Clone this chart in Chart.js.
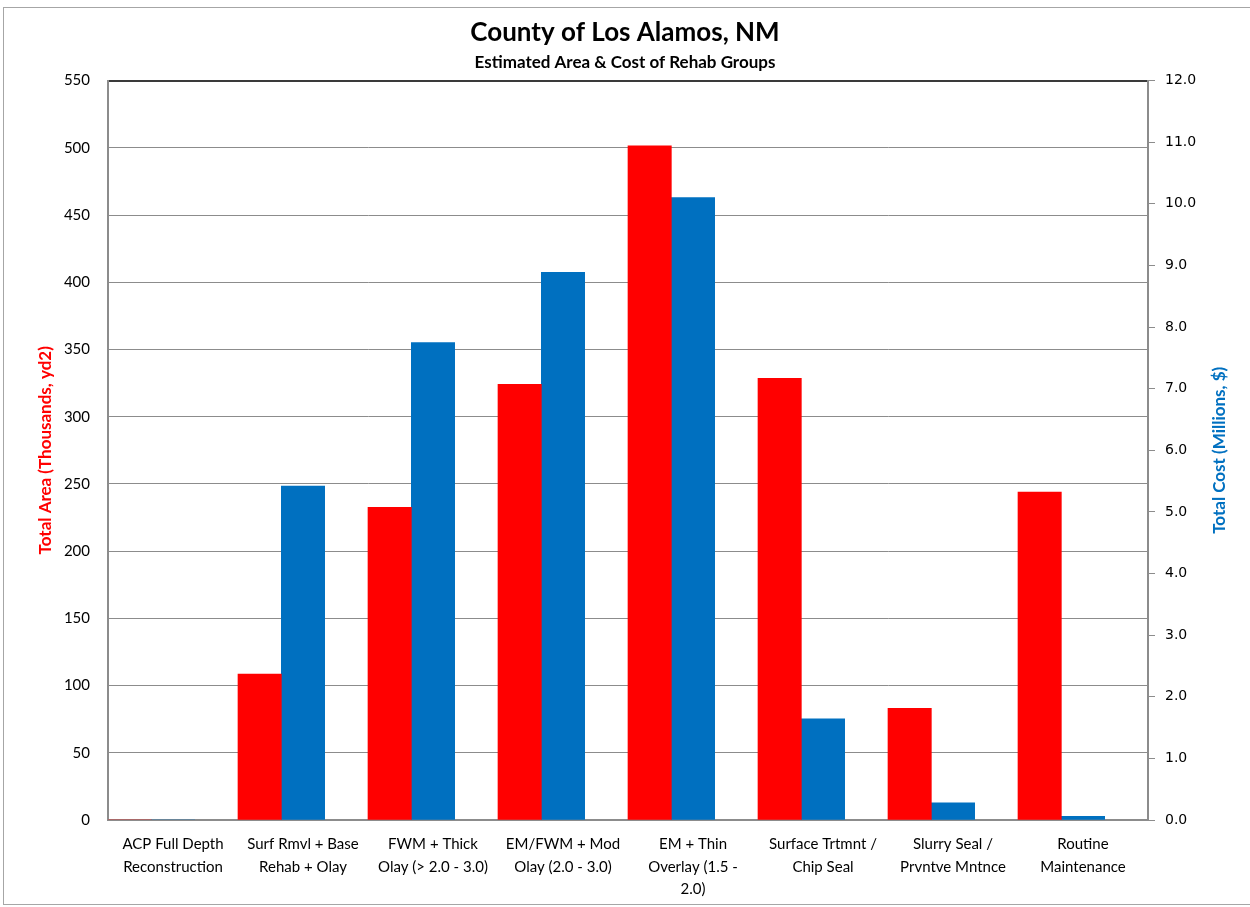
<!DOCTYPE html>
<html>
<head>
<meta charset="utf-8">
<script src="https://cdn.jsdelivr.net/npm/chart.js@4/dist/chart.umd.min.js"></script>
<style>
  body { margin: 0; background: #fff; }
  #wrap { position: relative; width: 1250px; height: 907px; overflow: hidden; }
  #frame { position: absolute; left: 3px; top: 7px; width: 1260px; height: 896px; border: 1px solid #a6a6a6; }
  #grafico { position: absolute; left: 0; top: 0; }
</style>
</head>
<body>
<div id="wrap">
  <div id="frame"></div>
  <canvas id="grafico" width="1250" height="907"></canvas>
</div>
<script>
// categorias (rótulos em várias linhas)
const categorias = [
  ["ACP Full Depth", "Reconstruction"],
  ["Surf Rmvl + Base", "Rehab + Olay"],
  ["FWM + Thick", "Olay (> 2.0 - 3.0)"],
  ["EM/FWM + Mod", "Olay (2.0 - 3.0)"],
  ["EM + Thin", "Overlay (1.5 -", "2.0)"],
  ["Surface Trtmnt /", "Chip Seal"],
  ["Slurry Seal /", "Prvntve Mntnce"],
  ["Routine", "Maintenance"]
];

// área total (milhares de yd2) - eixo esquerdo
const areaTotal = [0, 108.5, 232.5, 324, 501.5, 328.5, 83, 244];

// custo total (milhões de $) - eixo direito
const custoTotal = [0, 5.42, 7.75, 8.89, 10.1, 1.64, 0.28, 0.06];

// série vazia (ocupa o terceiro lugar do grupo, como no original)
const vazio = [null, null, null, null, null, null, null, null];

const fonteTexto = "Lato, 'Open Sans', sans-serif";
const tituloDireito = "Total Cost (Millions, $)";

/* titulo do eixo direito, lido de baixo para cima */
const tituloEixoDireito = {
  id: "tituloEixoDireito",
  afterDraw(chart) {
    const area = chart.chartArea;
    const c = chart.ctx;
    c.save();
    c.translate(1220, (area.top + area.bottom) / 2);
    c.rotate(-Math.PI / 2);
    c.fillStyle = "#0070C0";
    c.font = "bold 17px " + fonteTexto;
    c.textAlign = "center";
    c.textBaseline = "middle";
    c.fillText(tituloDireito, 0, 0);
    c.restore();
  },
};

const ctx = document.getElementById("grafico").getContext("2d");
const grafico = new Chart(ctx, {
  type: "bar",
  data: {
    labels: categorias,
    datasets: [
      {
        label: "Total Area",
        data: areaTotal,
        backgroundColor: "#FF0000",
        yAxisID: "y",
      },
      {
        label: "Total Cost",
        data: custoTotal,
        backgroundColor: "#0070C0",
        yAxisID: "y1",
      },
      {
        label: "",
        data: vazio,
        backgroundColor: "rgba(0,0,0,0)",
        yAxisID: "y",
      },
    ],
  },
  options: {
    responsive: false,
    animation: false,
    layout: { padding: 0 },
    categoryPercentage: 1,
    barPercentage: 1,
    plugins: {
      legend: { display: false },
      tooltip: { enabled: false },
      title: {
        display: true,
        text: "County of Los Alamos, NM",
        color: "#000",
        font: { family: fonteTexto, size: 26, weight: "bold", lineHeight: 1.2 },
        padding: { top: 17, bottom: 0 },
      },
      subtitle: {
        display: true,
        text: "Estimated Area & Cost of Rehab Groups",
        color: "#000",
        font: { family: fonteTexto, size: 17, weight: "bold", lineHeight: 1.2 },
        padding: { top: 4, bottom: 8 },
      },
    },
    scales: {
      x: {
        grid: { display: false },
        border: { display: true, color: "#8c8c8c", width: 2 },
        ticks: {
          color: "#000",
          font: { family: fonteTexto, size: 15, lineHeight: 1.5 },
          padding: 5,
          maxRotation: 0,
          autoSkip: false,
        },
        afterFit: (scale) => { scale.height = 87; },
      },
      y: {
        position: "left",
        min: 0,
        max: 550,
        ticks: {
          stepSize: 50,
          color: "#000",
          font: { family: fonteTexto, size: 15 },
          padding: 18,
        },
        grid: {
          color: (c) => (c.tick && c.tick.value === 550 ? "#3a3a3a" : "#8c8c8c"),
          lineWidth: (c) => (c.tick && c.tick.value === 550 ? 2 : 1),
          drawTicks: false,
        },
        border: { display: true, color: "#8c8c8c", width: 2 },
        title: {
          display: true,
          text: "Total Area (Thousands, yd2)",
          color: "#FF0000",
          font: { family: fonteTexto, size: 17, weight: "bold", lineHeight: 1.2 },
          padding: { top: 35, bottom: 0 },
        },
        afterFit: (scale) => { scale.width = 108; },
      },
      y1: {
        position: "right",
        min: 0,
        max: 12,
        ticks: {
          stepSize: 1,
          color: "#000",
          font: { family: "'DejaVu Sans', sans-serif", size: 14 },
          padding: 10,
          callback: (v) => v.toFixed(1),
        },
        grid: {
          drawOnChartArea: false,
          color: "#8c8c8c",
          tickLength: 7,
        },
        border: { display: true, color: "#8c8c8c", width: 2 },
        title: { display: false },
        afterFit: (scale) => { scale.width = 102; },
      },
    },
  },
  plugins: [tituloEixoDireito],
});
</script>
</body>
</html>
